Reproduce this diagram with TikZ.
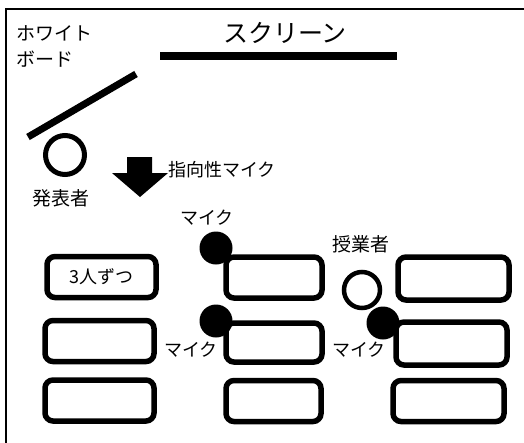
\documentclass[tikz,border=0pt]{standalone}
\usepackage{fontspec}
\setmainfont{Noto Sans CJK JP}
\begin{document}
\begin{tikzpicture}[x=1pt,y=-1pt,
  desk/.style={draw,line width=5.5pt,rounded corners=8pt,minimum width=#1,inner sep=0pt},
  deskrow/.style={minimum height=41pt},
  lbl/.style={inner sep=0pt,font=\fontsize{18}{20}\selectfont},
  mic/.style={circle,fill=black,minimum size=33pt,inner sep=0pt},
  person/.style={circle,draw,inner sep=0pt}]
\useasboundingbox (0,0) rectangle (524,442);
% frame
\draw[line width=2pt] (6,443) -- (6,9) -- (525,9);
% texts
\node[lbl,anchor=west,font=\fontsize{19}{21}\selectfont] (wb1) at (16,33) {ホワイト};
\node[lbl,anchor=west,font=\fontsize{19}{21}\selectfont] (wb2) at (16,59) {ボード};
\node[inner sep=0pt,font=\fontsize{25}{27}\selectfont] (scr) at (285,33) {スクリーン};
% screen & whiteboard bars
\draw[line width=8pt] (160,55.5) -- (397,55.5);
\draw[line width=7pt] (28,137) -- (136,74);
% presenter
\node[person,line width=5pt,minimum size=39pt] (pres) at (65,155) {};
\node[lbl,font=\fontsize{19}{21}\selectfont] (prest) at (61,198) {発表者};
% directional mic arrow
\fill (127,157) -- (152,157) -- (152,173) -- (168,173) -- (140,197) -- (112,173) -- (127,173) -- cycle;
\node[lbl,anchor=west] (dmic) at (168,170) {指向性マイク};
% desks column 1
\node[desk=109pt,deskrow] (d11) at (101.5,277) {\fontsize{18}{20}\selectfont 3人ずつ};
\node[desk=109pt,deskrow] (d12) at (99.5,341) {};
\node[desk=109pt,deskrow] (d13) at (99.5,400.5) {};
% column 2
\node[desk=96pt,deskrow] (d21) at (274,277.5) {};
\node[desk=96pt,deskrow,minimum height=39pt] (d22) at (274,342.5) {};
\node[desk=95pt,deskrow] (d23) at (273.5,401) {};
% column 3
\node[desk=111pt,deskrow,minimum height=43pt] (d31) at (453.5,278.5) {};
\node[desk=111pt,deskrow,minimum height=43pt] (d32) at (451.5,343.5) {};
\node[desk=111pt,deskrow] (d33) at (448.5,401) {};
% mics
\node[mic] (m1) at (216,248) {};
\node[mic] (m2) at (216,321) {};
\node[mic] (m3) at (383,323) {};
\node[lbl] (m1t) at (207,218) {マイク};
\node[lbl] (m2t) at (191,350) {マイク};
\node[lbl] (m3t) at (359,350) {マイク};
% teacher
\node[person,line width=4.5pt,minimum size=36pt] (teach) at (362,290) {};
\node[lbl,font=\fontsize{19}{21}\selectfont] (teacht) at (361,244) {授業者};
\end{tikzpicture}
\end{document}
